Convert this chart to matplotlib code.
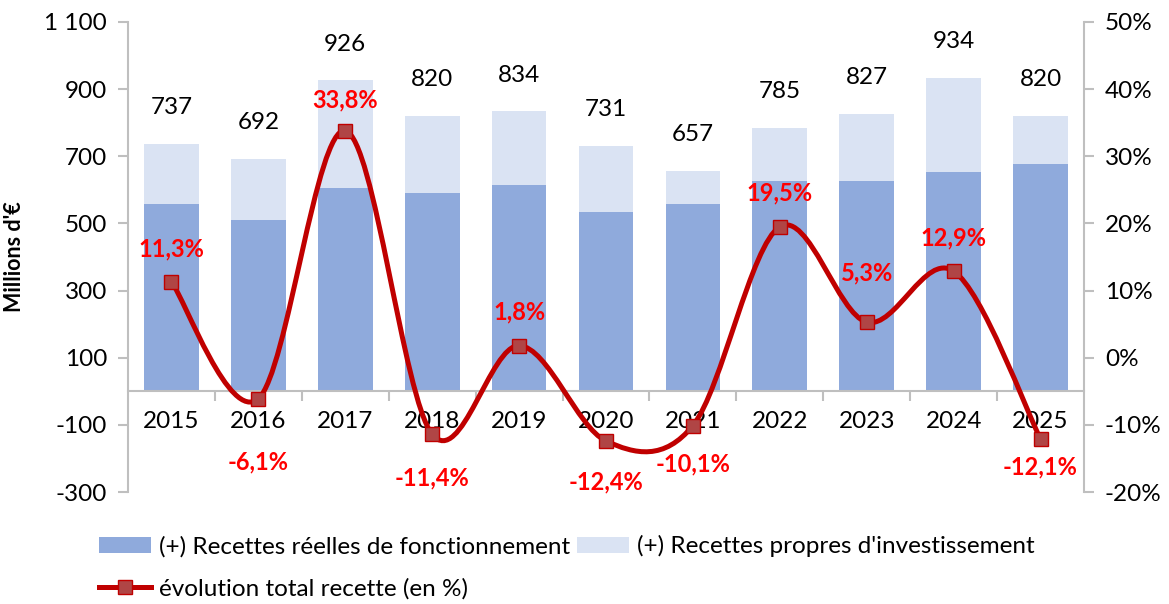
import numpy as np
import matplotlib.pyplot as plt
from matplotlib.path import Path
from matplotlib.patches import PathPatch, Patch
from matplotlib.lines import Line2D

plt.rcParams['font.family'] = ['Lato', 'DejaVu Sans']

# Data
years = ["2015", "2016", "2017", "2018", "2019", "2020", "2021", "2022", "2023", "2024", "2025"]
fonctionnement = [557, 509, 605, 590, 614, 534, 557, 626, 626, 653, 677]
totals = [737, 692, 926, 820, 834, 731, 657, 785, 827, 934, 820]
evolution = [11.3, -6.1, 33.8, -11.4, 1.8, -12.4, -10.1, 19.5, 5.3, 12.9, -12.1]
investissement = [t - f for t, f in zip(totals, fonctionnement)]

left_ticks = [-300, -100, 100, 300, 500, 700, 900, 1100]
right_ticks = [-20, -10, 0, 10, 20, 30, 40, 50]

c_dark = "#8FAADC"
c_light = "#DAE3F3"
c_line = "#C00000"
c_marker = "#B04545"
c_axis = "#BFBFBF"
fs = 17.5

fig = plt.figure(figsize=(11.69, 6.04), dpi=100)
ax = fig.add_axes([0.1095, 0.1854, 0.8178, 0.7782])
ax2 = ax.twinx()

x = np.arange(len(years))
w = 0.63
ax.bar(x, fonctionnement, w, color=c_dark, zorder=2)
ax.bar(x, investissement, w, bottom=fonctionnement, color=c_light, zorder=2)

for xi, t in zip(x, totals):
    ax.annotate(str(t), (xi, t), xytext=(0, 26), textcoords="offset points",
                ha="center", va="center", fontsize=fs, color="black")

ax.set_xlim(-0.5, len(years) - 0.5)
ax.set_ylim(-300, 1100)
ax.set_yticks(left_ticks)
ax.set_yticklabels([f"{v:,}".replace(",", " ") for v in left_ticks])
ax.set_ylabel("Millions d'€", fontsize=15.5, fontweight="bold", labelpad=14)

ax.spines["top"].set_visible(False)
ax.spines["right"].set_visible(False)
ax.spines["left"].set_color(c_axis)
ax.spines["left"].set_linewidth(1.5)
ax.spines["bottom"].set_position(("data", 0))
ax.spines["bottom"].set_color(c_axis)
ax.spines["bottom"].set_linewidth(1.5)
ax.tick_params(axis="y", colors=c_axis, labelcolor="black", labelsize=fs,
               length=7, width=1.5, pad=8)
ax.set_xticks(x)
ax.set_xticklabels(years)
ax.tick_params(axis="x", which="major", length=0, labelsize=fs, pad=14)
ax.set_xticks(np.arange(0.5, len(years) - 1, 1), minor=True)
ax.tick_params(axis="x", which="minor", length=7, width=1.5, colors=c_axis)

ax2.set_ylim(-20, 50)
ax2.set_yticks(right_ticks)
ax2.set_yticklabels([f"{v}%" for v in right_ticks])
for s in ["top", "left", "bottom"]:
    ax2.spines[s].set_visible(False)
ax2.spines["right"].set_color(c_axis)
ax2.spines["right"].set_linewidth(1.5)
ax2.tick_params(axis="y", colors=c_axis, labelcolor="black", labelsize=fs,
                length=7, width=1.5, pad=8)

# Smoothed line (Excel-like Bezier smoothing through the points)
pts = np.column_stack([x, evolution]).astype(float)
ext = np.vstack([pts[0], pts, pts[-1]])
verts = [tuple(pts[0])]
codes = [Path.MOVETO]
for i in range(len(pts) - 1):
    p0, p1, p2, p3 = ext[i], ext[i + 1], ext[i + 2], ext[i + 3]
    c1 = p1 + (p2 - p0) / 6
    c2 = p2 - (p3 - p1) / 6
    verts += [tuple(c1), tuple(c2), tuple(p2)]
    codes += [Path.CURVE4] * 3
ax2.add_patch(PathPatch(Path(verts, codes), fill=False, edgecolor=c_line,
                        linewidth=3.6, capstyle="round", zorder=3))
ax2.plot(x, evolution, linestyle="none", marker="s", markersize=9.5,
         markerfacecolor=c_marker, markeredgecolor=c_line, markeredgewidth=1, zorder=4)

# label offsets in pixels (manual placement as in the original)
label_dy = [33, -63, 31, -44, 34, -41, -38, 34, 49, 33, -28]
for xi, v, dy in zip(x, evolution, label_dy):
    ax2.annotate(f"{v:.1f}%".replace(".", ","), (xi, v), xytext=(0, dy * 0.72),
                 textcoords="offset points", ha="center", va="center",
                 fontsize=17, fontweight="bold", color="#FF0000", zorder=5)

h_dark = Patch(facecolor=c_dark)
h_light = Patch(facecolor=c_light)
h_line = Line2D([], [], color=c_line, linewidth=3.6, marker="s", markersize=9.5,
                markerfacecolor=c_marker, markeredgecolor=c_line)
fig.legend([h_dark, h_line, h_light],
           ["(+) Recettes réelles de fonctionnement", "évolution total recette (en %)",
            "(+) Recettes propres d'investissement"],
           loc="upper left", bbox_to_anchor=(0.066, 0.15), ncol=2, frameon=False,
           fontsize=fs, handlelength=2.15, handleheight=0.6, columnspacing=0.3,
           labelspacing=0.85, handletextpad=0.3)

fig.savefig("out.png", dpi=100)
